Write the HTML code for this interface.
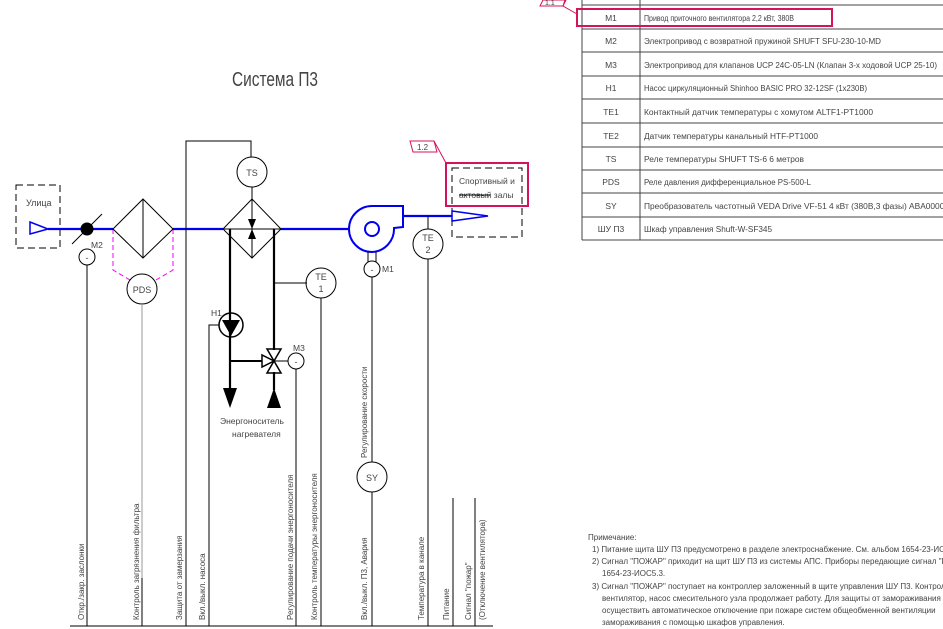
<!DOCTYPE html>
<html><head><meta charset="utf-8"><style>
html,body{margin:0;padding:0;background:#fff;width:943px;height:629px;overflow:hidden}
svg{display:block}
text{font-family:"Liberation Sans","DejaVu Sans",sans-serif;fill:#444}
</style></head><body>
<svg width="943" height="629" viewBox="0 0 943 629" xmlns="http://www.w3.org/2000/svg">
<!-- Table -->
<g stroke="#444" stroke-width="1" fill="none">
<line x1="582" y1="0" x2="582" y2="240"/>
<line x1="640" y1="0" x2="640" y2="240"/>
<line x1="582" y1="5" x2="943" y2="5"/>
<line x1="582" y1="29" x2="943" y2="29"/>
<line x1="582" y1="52" x2="943" y2="52"/>
<line x1="582" y1="76" x2="943" y2="76"/>
<line x1="582" y1="99" x2="943" y2="99"/>
<line x1="582" y1="123" x2="943" y2="123"/>
<line x1="582" y1="147" x2="943" y2="147"/>
<line x1="582" y1="170" x2="943" y2="170"/>
<line x1="582" y1="193" x2="943" y2="193"/>
<line x1="582" y1="217" x2="943" y2="217"/>
<line x1="582" y1="240" x2="943" y2="240"/>
</g>
<g font-size="8.5" text-anchor="middle">
<text x="611" y="21">M1</text><text x="611" y="44">M2</text><text x="611" y="68">M3</text>
<text x="611" y="91">H1</text><text x="611" y="115">TE1</text><text x="611" y="139">TE2</text>
<text x="611" y="162">TS</text><text x="611" y="185">PDS</text><text x="611" y="209">SY</text>
<text x="611" y="232">ШУ П3</text>
</g>
<g font-size="8">
<text x="644" y="21" textLength="150" lengthAdjust="spacingAndGlyphs">Привод приточного вентилятора 2,2 кВт, 380В</text>
<text x="644" y="44" textLength="237" lengthAdjust="spacingAndGlyphs">Электропривод с возвратной пружиной SHUFT SFU-230-10-MD</text>
<text x="644" y="68" textLength="293" lengthAdjust="spacingAndGlyphs">Электропривод для клапанов UCP 24C-05-LN (Клапан 3-х ходовой UCP 25-10)</text>
<text x="644" y="91" textLength="223" lengthAdjust="spacingAndGlyphs">Насос циркуляционный Shinhoo BASIC PRO 32-12SF (1x230В)</text>
<text x="644" y="115" textLength="229" lengthAdjust="spacingAndGlyphs">Контактный датчик температуры с хомутом ALTF1-PT1000</text>
<text x="644" y="139" textLength="174" lengthAdjust="spacingAndGlyphs">Датчик температуры канальный HTF-PT1000</text>
<text x="644" y="162" textLength="160" lengthAdjust="spacingAndGlyphs">Реле температуры SHUFT TS-6 6 метров</text>
<text x="644" y="185" textLength="167" lengthAdjust="spacingAndGlyphs">Реле давления дифференциальное PS-500-L</text>
<text x="644" y="209" textLength="305" lengthAdjust="spacingAndGlyphs">Преобразователь частотный VEDA Drive VF-51 4 кВт (380В,3 фазы) ABA00008</text>
<text x="644" y="232" textLength="128" lengthAdjust="spacingAndGlyphs">Шкаф управления Shuft-W-SF345</text>
</g>
<!-- magenta callouts -->
<g stroke="#d4145a" fill="none">
<rect x="577" y="9" width="255" height="17" stroke-width="2"/>
<polyline points="577,14 563,6 565,0" stroke-width="1"/>
<polygon points="543,0 566,0 563,6 540,6" stroke-width="1"/>
<rect x="446" y="163" width="82" height="43" stroke-width="2"/>
<polygon points="410,141 434,141 437,152 413,152" stroke-width="1"/>
<polyline points="434,141 446,163" stroke-width="1"/>
</g>
<g stroke="#ff00ff" fill="none" stroke-dasharray="5,3" stroke-width="1">
<polyline points="113,229 113,270 130,280"/>
<polyline points="173,229 173,270 156,280"/>
</g>
<text x="417" y="150" font-size="8">1.2</text>
<text x="545" y="5" font-size="7">1.1</text>
<!-- title -->
<text x="232" y="86" font-size="20" fill="#555" textLength="86" lengthAdjust="spacingAndGlyphs">Система П3</text>
<!-- dashed boxes -->
<g stroke="#000" stroke-dasharray="7,4" fill="none" stroke-width="1">
<rect x="16" y="185" width="44" height="63"/>
<rect x="452" y="168" width="70" height="69"/>
</g>
<text x="26" y="206" font-size="9">Улица</text>
<text x="459" y="184" font-size="8.5">Спортивный и</text>
<text x="459" y="198" font-size="8.5">актовый залы</text>
<line x1="459" y1="195" x2="490" y2="195" stroke="#000" stroke-width="1"/>
<!-- blue duct -->
<g stroke="#0000ee" stroke-width="2.2" fill="none">
<line x1="48" y1="229" x2="113" y2="229"/>
<line x1="173" y1="229" x2="223" y2="229"/>
<line x1="281" y1="229" x2="349" y2="229"/>
<polygon points="30,222 48,229 30,234" stroke-width="1.5"/>
<line x1="403" y1="216" x2="452" y2="216"/>
<polygon points="452,211 488,216 452,221" stroke-width="1.5"/>
<path d="M372,206 L403,206 L403,227 L394,228 A23,23 0 0 1 372,252 A23,23 0 0 1 349,229 A23,23 0 0 1 372,206 Z" stroke-width="2"/>
<circle cx="372" cy="229" r="7" stroke-width="2"/>
</g>
<!-- black diagram -->
<g stroke="#000" stroke-width="1" fill="none">
<line x1="72" y1="244" x2="102" y2="214"/>
<circle cx="87" cy="257" r="8"/>
<line x1="87" y1="265" x2="87" y2="626"/>
<polygon points="143,199 173,229 143,258 113,229"/>
<line x1="143" y1="199" x2="143" y2="258"/>
<circle cx="142" cy="289" r="15"/>
<line x1="142" y1="304" x2="142" y2="578" stroke="#999"/>
<line x1="142" y1="578" x2="142" y2="626"/>
<polyline points="186,626 186,141 251,141 251,157"/>
<circle cx="252" cy="172" r="15"/>
<line x1="252" y1="187" x2="252" y2="199"/>
<polygon points="252,199 281,229 252,258 223,229"/>
<line x1="252" y1="199" x2="252" y2="258"/>
<line x1="223" y1="229" x2="281" y2="229"/>
<line x1="230" y1="229" x2="230" y2="392" stroke-width="2.2"/>
<line x1="274" y1="229" x2="274" y2="350" stroke-width="2.2"/>
<line x1="274" y1="372" x2="274" y2="390" stroke-width="2.2"/>
<line x1="231" y1="361" x2="262" y2="361" stroke-width="2"/>
<circle cx="231" cy="325" r="12" stroke-width="1.5"/>
<polyline points="219,325 209,325 209,626"/>
<line x1="274" y1="283" x2="307" y2="283"/>
<circle cx="321" cy="283" r="15"/>
<line x1="321" y1="298" x2="321" y2="626"/>
<polygon points="267,349 281,349 274,361" stroke-width="1.5"/>
<polygon points="267,373 281,373 274,361" stroke-width="1.5"/>
<polygon points="262,355 262,367 274,361" stroke-width="1.5"/>
<line x1="274" y1="361" x2="288" y2="361"/>
<circle cx="296" cy="361" r="8"/>
<line x1="296" y1="369" x2="296" y2="626"/>
<line x1="368" y1="252" x2="368" y2="262"/>
<line x1="376" y1="252" x2="376" y2="262"/>
<circle cx="372" cy="269" r="8"/>
<line x1="372" y1="277" x2="372" y2="462"/>
<circle cx="372" cy="477" r="15"/>
<line x1="372" y1="492" x2="372" y2="626"/>
<line x1="428" y1="216" x2="428" y2="229"/>
<circle cx="428" cy="244" r="15"/>
<line x1="428" y1="259" x2="428" y2="626"/>
<line x1="453" y1="498" x2="453" y2="626"/>
<line x1="475" y1="498" x2="475" y2="626"/>
<line x1="70" y1="626" x2="493" y2="626"/>
</g>
<g fill="#000">
<circle cx="87" cy="229" r="6.5"/>
<polygon points="248,219 256,219 252,229"/>
<polygon points="248,239 256,239 252,229"/>
<polygon points="222,320 240,320 231,336"/>
<polygon points="223,388 237,388 230,408"/>
<polygon points="267,408 281,408 274,388"/>
</g>
<g font-size="9" text-anchor="middle" fill="#333">
<text x="87" y="261">-</text>
<text x="372" y="273">-</text>
<text x="296" y="365">-</text>
<text x="142" y="293">PDS</text>
<text x="252" y="176">TS</text>
<text x="321" y="280">TE</text><text x="321" y="292">1</text>
<text x="428" y="241">TE</text><text x="428" y="253">2</text>
<text x="372" y="481">SY</text>
</g>
<g font-size="8.5">
<text x="91" y="248">M2</text>
<text x="382" y="272">M1</text>
<text x="293" y="351">M3</text>
<text x="211" y="316">H1</text>
<text x="220" y="424">Энергоноситель</text>
<text x="232" y="437">нагревателя</text>
</g>
<g font-size="8" fill="#555">
<text transform="translate(84,620) rotate(-90)">Откр./закр. заслонки</text>
<text transform="translate(139,620) rotate(-90)">Контроль загрязнения фильтра</text>
<text transform="translate(182,620) rotate(-90)">Защита от замерзания</text>
<text transform="translate(205,620) rotate(-90)">Вкл./выкл. насоса</text>
<text transform="translate(293,620) rotate(-90)">Регулирование подачи энергоносителя</text>
<text transform="translate(317,620) rotate(-90)">Контроль температуры энергоносителя</text>
<text transform="translate(367,620) rotate(-90)">Вкл./выкл. П3, Авария</text>
<text transform="translate(367,458) rotate(-90)">Регулирование скорости</text>
<text transform="translate(424,620) rotate(-90)">Температура в канале</text>
<text transform="translate(449,620) rotate(-90)">Питание</text>
<text transform="translate(471,620) rotate(-90)">Сигнал "пожар"</text>
<text transform="translate(485,620) rotate(-90)">(Отключение вентилятора)</text>
</g>
<g font-size="8" fill="#333">
<text x="588" y="540">Примечание:</text>
<text x="592" y="552">1)  Питание щита ШУ П3 предусмотрено в разделе электроснабжение. См. альбом 1654-23-ИОС</text>
<text x="592" y="564">2)  Сигнал "ПОЖАР" приходит на щит ШУ П3 из системы АПС. Приборы передающие сигнал "ПОЖАР"</text>
<text x="602" y="576">1654-23-ИОС5.3.</text>
<text x="592" y="589">3)  Сигнал "ПОЖАР" поступает на контроллер заложенный в щите управления ШУ П3. Контроллер</text>
<text x="602" y="601">вентилятор, насос смесительного узла продолжает работу. Для защиты от замораживания</text>
<text x="602" y="613">осуществить автоматическое отключение при пожаре систем общеобменной вентиляции</text>
<text x="602" y="625">замораживания с помощью шкафов управления.</text>
</g>
</svg>
</body></html>
